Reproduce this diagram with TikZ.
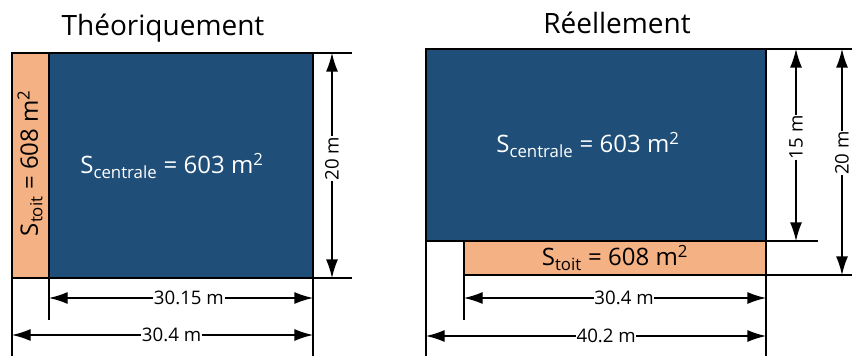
\documentclass[tikz,border=0pt]{standalone}
\usepackage{fontspec}
\setmainfont{Open Sans}
\usetikzlibrary{arrows.meta}
\usepackage{xcolor}
\definecolor{centralblue}{RGB}{31,78,121}
\definecolor{toitorange}{RGB}{244,177,131}

\begin{document}
\begin{tikzpicture}[
x=0.75pt, y=-0.75pt,
surface/.style={draw=black, line width=1.5pt},
extline/.style={line width=1.2pt},
dimline/.style={{Latex[length=14pt,width=9pt]}-{Latex[length=14pt,width=9pt]}, line width=1pt},
dimlabel/.style={fill=white, inner sep=0.5pt, font=\fontsize{14}{16}\selectfont},
arealabel/.style={inner sep=0pt, font=\fontsize{18}{21}\selectfont},
titlelabel/.style={font=\fontsize{21}{25}\selectfont}
]
\useasboundingbox (0,0) rectangle (852,356);

% Théoriquement
\node[titlelabel] (titleT) at (163,28) {Théoriquement};

\coordinate (toitT-nw) at (12,53);
\coordinate (toitT-se) at (49,278);
\coordinate (centT-nw) at (49,53);
\coordinate (centT-se) at (313,278);
\coordinate (centT-ne) at (313,53);

\draw[surface, fill=toitorange] (toitT-nw) rectangle (toitT-se);
\draw[surface, fill=centralblue] (centT-nw) rectangle (centT-se);

\node[arealabel, rotate=90] (stoitT) at (30,163) {S\textsubscript{toit} = 608 m\textsuperscript{2}};
\node[arealabel, text=white] (scentT) at (172,166) {S\textsubscript{centrale} = 603 m\textsuperscript{2}};

\draw[extline] (centT-ne) -- (352,53);
\draw[extline] (centT-se) -- (352,278);
\draw[extline] (toitT-se) -- (49,320);
\draw[extline] (12,278) -- (12,356);
\draw[extline] (centT-se) -- (313,356);

\draw[dimline] (332,53) -- node[dimlabel, rotate=90, pos=0.47] (hT) {20 m} (332,278);
\draw[dimline] (49,298) -- node[dimlabel, pos=0.53] (wcT) {30.15 m} (313,298);
\draw[dimline] (12,335) -- node[dimlabel, pos=0.53] (wtT) {30.4 m} (313,335);

% Réellement
\node[titlelabel] (titleR) at (617,23) {Réellement};

\coordinate (centR-nw) at (426,49);
\coordinate (centR-se) at (766,241);
\coordinate (centR-ne) at (766,49);
\coordinate (centR-sw) at (426,241);
\coordinate (toitR-nw) at (464,241);
\coordinate (toitR-se) at (766,275);
\coordinate (toitR-sw) at (464,275);

\draw[surface, fill=centralblue] (centR-nw) rectangle (centR-se);
\draw[surface, fill=toitorange] (toitR-nw) rectangle (toitR-se);

\node[arealabel, text=white] (scentR) at (588,145) {S\textsubscript{centrale} = 603 m\textsuperscript{2}};
\node[arealabel] (stoitR) at (615,258) {S\textsubscript{toit} = 608 m\textsuperscript{2}};

\draw[extline] (centR-ne) -- (852,49);
\draw[extline] (centR-se) -- (818,241);
\draw[extline] (toitR-se) -- (852,275);
\draw[extline] (toitR-sw) -- (464,320);
\draw[extline] (centR-sw) -- (426,356);
\draw[extline] (toitR-se) -- (766,356);

\draw[dimline] (796,49) -- node[dimlabel, rotate=90, pos=0.46] (h1R) {15 m} (796,241);
\draw[dimline] (842,49) -- node[dimlabel, rotate=90, pos=0.46] (h2R) {20 m} (842,275);
\draw[dimline] (464,298) -- node[dimlabel, pos=0.53] (wtR) {30.4 m} (766,298);
\draw[dimline] (426,336) -- node[dimlabel, pos=0.53] (wcR) {40.2 m} (766,336);

\end{tikzpicture}
\end{document}
